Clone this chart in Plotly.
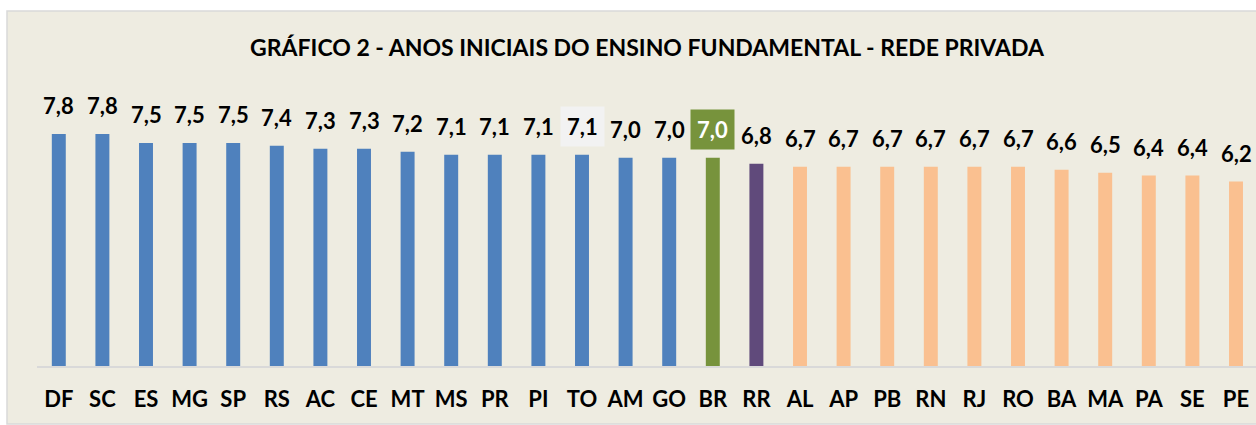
import plotly.graph_objects as go

categories = ["DF", "SC", "ES", "MG", "SP", "RS", "AC", "CE", "MT", "MS", "PR", "PI", "TO", "AM",
              "GO", "BR", "RR", "AL", "AP", "PB", "RN", "RJ", "RO", "BA", "MA", "PA", "SE", "PE"]
values = [7.8, 7.8, 7.5, 7.5, 7.5, 7.4, 7.3, 7.3, 7.2, 7.1, 7.1, 7.1, 7.1, 7.0,
          7.0, 7.0, 6.8, 6.7, 6.7, 6.7, 6.7, 6.7, 6.7, 6.6, 6.5, 6.4, 6.4, 6.2]
groups = ["top"] * 15 + ["br", "rr"] + ["low"] * 11

BLUE, GREEN, PURPLE, ORANGE = "#4F81BD", "#77933C", "#604A7B", "#FAC090"
BEIGE = "#EEECE1"
group_colors = {"top": BLUE, "br": GREEN, "rr": PURPLE, "low": ORANGE}
colors = [group_colors[g] for g in groups]

labels = [f"{v:.1f}".replace(".", ",") for v in values]
label_bg = ["#F2F2F2" if c == "TO" else (GREEN if c == "BR" else "rgba(0,0,0,0)") for c in categories]
label_fc = ["#FFFFFF" if c == "BR" else "#000000" for c in categories]

W, H = 1256, 425
L, R, T, B = 37, 0, 60, 59
pw, ph = W - L - R, H - T - B
step = 43.6
ymax = ph / 29.75

FONT = "Lato"

fig = go.Figure(go.Bar(x=categories, y=values, marker=dict(color=colors, line=dict(width=0)),
                       hoverinfo="x+y"))

for c, v, t, bg, fc in zip(categories, values, labels, label_bg, label_fc):
    fig.add_annotation(x=c, y=v, text=f"<b>{t}</b>", showarrow=False, yanchor="middle", yshift=28,
                       font=dict(family=FONT, size=22, color=fc), bgcolor=bg, borderpad=6)

def px_x(p):
    return (p - L) / pw

def px_y(p):
    return (H - B - p) / ph

fig.add_shape(type="rect", xref="paper", yref="paper", x0=px_x(7), x1=px_x(1280),
              y0=px_y(424), y1=px_y(11), fillcolor=BEIGE, line=dict(color="#D9D9D9", width=1.5),
              layer="below")

fig.update_layout(
    width=W, height=H,
    margin=dict(l=L, r=R, t=T, b=B),
    paper_bgcolor="white", plot_bgcolor="rgba(0,0,0,0)",
    bargap=0.68, showlegend=False,
    title=dict(text="<b>GRÁFICO 2 - ANOS INICIAIS DO ENSINO FUNDAMENTAL - REDE PRIVADA</b>",
               x=647 / W, xref="container", xanchor="center",
               y=1 - 48 / H, yref="container", yanchor="middle",
               font=dict(family=FONT, size=23, color="#000000")),
    xaxis=dict(range=[-0.5, -0.5 + pw / step], showgrid=False, showline=True, linecolor="#D9D9D9",
               linewidth=1.5, ticks="outside", ticklen=13, tickcolor="rgba(0,0,0,0)",
               tickfont=dict(family=FONT, size=22, color="#000000"), tickprefix="<b>", ticksuffix="</b>"),
    yaxis=dict(range=[0, ymax], visible=False),
)

fig.write_html("out.html", config={"displayModeBar": False},
               post_script="document.body.style.margin='0';document.body.style.overflow='hidden';")
